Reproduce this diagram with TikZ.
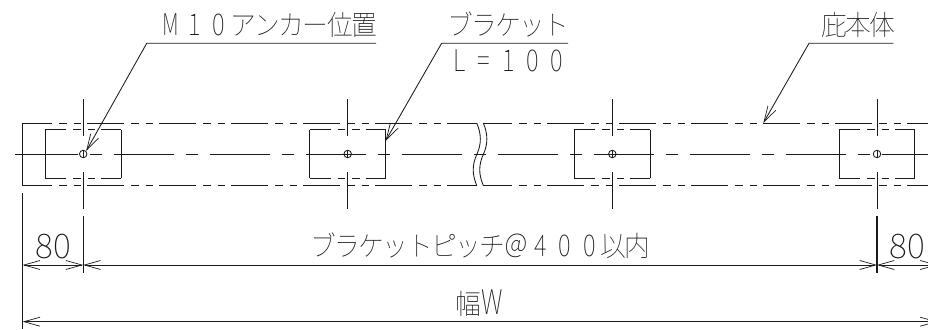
\documentclass[tikz,border=0pt]{standalone}
\usepackage{fontspec}
\usetikzlibrary{arrows.meta}
\newfontfamily\jpfont{Noto Sans CJK JP Thin}
\newcommand\fw[1]{\makebox[24.2pt][c]{\scalebox{.92}[1]{\fontsize{28}{28}\selectfont #1}}}
\newcommand\tl[1]{\makebox[24.2pt][c]{\scalebox{.8}[1]{\fontsize{30}{30}\selectfont #1}}}
\definecolor{ink}{HTML}{1A1A1A}
\tikzset{
 x=1pt,y=-1pt,
 barb/.tip={Straight Barb[length=16pt,width=9pt,line width=.7pt]},
 ln/.style={line width=.85pt,ink},
 chain/.style={ln,dash pattern=on 37pt off 7pt on 7.5pt off 7pt on 7.5pt off 6pt},
 center/.style={ln,dash pattern=on 60pt off 12pt on 12pt off 12pt},
 txt/.style={inner sep=0pt,text=ink,font=\jpfont\fontsize{24}{24}\selectfont},
 hole/.style={circle,draw,ln,minimum size=7.5pt,inner sep=0pt},
 lead/.style={ln,{barb}-},
}
\newcommand\brk[2]{%
 \begin{scope}[shift={(#1,0)}]
  \draw[ln] (-37.9,129.5) -- (-37.9,178) (37.8,129.5) -- (37.8,178);
  \draw[chain,dash phase=16pt] (-37.9,129.5) -- (37.8,129.5);
  \draw[chain,dash phase=16pt] (-37.9,178) -- (37.8,178);
  \draw[ln] (0,99) -- (0,136) (0,172) -- (0,209);
  \node[hole] (#2) at (0,154) {};
  \draw[ln] (0,150.2) -- (0,157.8);
 \end{scope}}
\begin{document}
\begin{tikzpicture}
\useasboundingbox (0,0) rectangle (928,329);
% body
\draw[ln] (22.7,123) -- (22.7,185.5);
\draw[chain,dash phase=7.5pt] (22.7,123) -- (476.7,123);
\draw[chain,dash phase=7.5pt] (22.7,185.5) -- (476.7,185.5);
\draw[chain,dash phase=8pt] (483.3,123) -- (945,123);
\draw[chain,dash phase=8pt] (483.3,185.5) -- (945,185.5);
\draw[ln] (476.7,123) .. controls (481.5,134) and (481.5,144) .. (477,154) .. controls (472,165) and (472,174) .. (476.7,185.5);
\draw[ln] (483.3,123) .. controls (488,134) and (488,144) .. (483.5,154) .. controls (478.5,165) and (478.5,174) .. (483.3,185.5);
% centre line
\draw[ln] (15,154) -- (18,154);
\draw[center] (18,154) -- (945,154);
% brackets
\brk{83.2}{h1}
\brk{347.7}{h2}
\brk{612.3}{h3}
\brk{877}{h4}
% labels
\node[txt,anchor=base east] (m10) at (376.5,36) {\makebox[24.2pt][c]{\scalebox{.9}[1]{\tl{M}}}\tl{1}\tl{0}\fw{ア}\fw{ン}\fw{カ}\fw{ー}\fw{位}\fw{置}};
\node[txt,anchor=base east] (brt) at (569,36) {\fw{ブ}\fw{ラ}\fw{ケ}\fw{ッ}\fw{ト}};
\node[txt,anchor=base east] (lng) at (569,71) {\tl{L}\tl{=}\tl{1}\tl{0}\tl{0}};
\node[txt,anchor=base east] (hon) at (895,36) {\fw{庇}\fw{本}\fw{体}};
\coordinate (k1) at (146.7,43.3); \coordinate (e1) at (376,43.3);
\coordinate (k2) at (441.6,43.3); \coordinate (e2) at (568,43.3);
\coordinate (k3) at (809,43.3);   \coordinate (e3) at (893.3,43.3);
\coordinate (t2) at (385.5,141);
\coordinate (t3) at (763.3,123);
\draw[lead] (h1.north east) -- (k1) -- (e1);
\draw[lead] (t2) -- (k2) -- (e2);
\draw[lead] (t3) -- (k3) -- (e3);
% dimensions
\coordinate (d0) at (22.7,265); \coordinate (d1) at (83.2,265);
\coordinate (d2) at (877,265);  \coordinate (d3) at (937.5,265);
\coordinate (w0) at (22.7,321.7); \coordinate (w1) at (937.5,321.7);
\draw[ln] (22.7,193) -- (22.7,329);
\draw[ln] (83.2,215.7) -- (83.2,272.7);
\draw[ln,line width=1.05pt] (877,215.7) -- (877,272.7);
\draw[ln,{barb}-{barb}] (d0) -- (d1);
\draw[ln,{barb}-{barb}] (d1) -- (d2);
\draw[ln,{barb}-{barb}] (d2) -- (d3);
\draw[ln,{barb}-{barb}] (w0) -- (w1);
\node[txt,anchor=base] (v80a) at (53.3,258) {\fontsize{34}{34}\selectfont 80};
\node[txt,anchor=base] (v80b) at (907.3,258) {\fontsize{34}{34}\selectfont 80};
\node[txt,anchor=base] (pit) at (480.5,256) {\fw{ブ}\fw{ラ}\fw{ケ}\fw{ッ}\fw{ト}\fw{ピ}\fw{ッ}\fw{チ}\fw{＠}\tl{4}\tl{0}\tl{0}\fw{以}\fw{内}};
\node[txt,anchor=base] (wid) at (480,314.5) {\fw{幅}\makebox[24.2pt][c]{\scalebox{.75}[1]{\fontsize{34}{34}\selectfont W}}};
\end{tikzpicture}
\end{document}
